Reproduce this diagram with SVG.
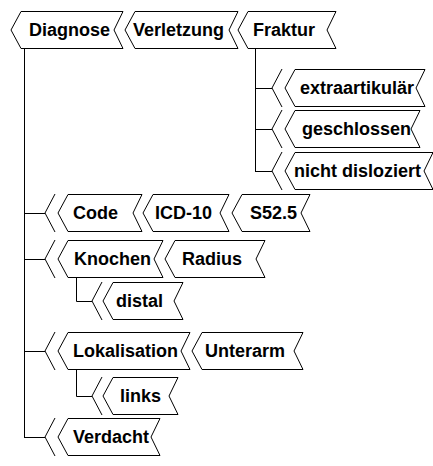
<svg xmlns="http://www.w3.org/2000/svg" width="433" height="466" viewBox="0 0 433 466">
  <style>
    .node path { fill: #fff; stroke: #000; stroke-width: 1; stroke-linejoin: miter; }
    .node text { font-family: "Liberation Sans", Arial, sans-serif; font-weight: bold; font-size: 18px; fill: #000; }
    .links path { fill: none; stroke: #000; stroke-width: 1; }
  </style>
  <rect width="433" height="466" fill="#fff"/>

  <!-- tree lines and entry chevrons -->
  <g id="connectors" class="links">
    <path d="M24.5,48 V437"/>
    <path d="M24,213.5 H45 M24,259.5 H45 M24,351.5 H45 M24,437.5 H45"/>
    <path d="M255.5,48 V171.5 M255,88.5 H272 M255,129.5 H272 M255,171.5 H272"/>
    <path d="M76.5,277 V301.5 H92 M76.5,369 V396.5 H92"/>
    <!-- chevrons in front of child nodes -->
    <path d="M282,69 L272,88 L282,107 M282,110 L272,129 L282,148 M282,152 L272,171 L282,190"/>
    <path d="M55,194 L45,213 L55,232 M55,240 L45,259 L55,278 M55,332 L45,351 L55,370 M55,418 L45,437 L55,456"/>
    <path d="M102,282 L92,301 L102,320 M102,377 L92,396 L102,415"/>
  </g>

  <g id="n-diagnose" class="node">
    <path d="M11,30 L21,11.5 H123 L114,30 L123,48.5 H21 Z"/>
    <text x="29" y="36">Diagnose</text>
  </g>
  <g id="n-verletzung" class="node">
    <path d="M125,30 L135,11.5 H238 L229,30 L238,48.5 H135 Z"/>
    <text x="133" y="36">Verletzung</text>
  </g>
  <g id="n-fraktur" class="node">
    <path d="M238,30 L248,11.5 H336 L327,30 L336,48.5 H248 Z"/>
    <text x="253" y="36">Fraktur</text>
  </g>

  <g id="n-extraartikulaer" class="node">
    <path d="M285,88 L295,69.5 H425 L416,88 L425,106.5 H295 Z"/>
    <text x="300" y="94">extraartikulär</text>
  </g>
  <g id="n-geschlossen" class="node">
    <path d="M285,129 L295,110.5 H420 L411,129 L420,147.5 H295 Z"/>
    <text x="302" y="135">geschlossen</text>
  </g>
  <g id="n-nicht-disloziert" class="node">
    <path d="M285,171 L295,152.5 H433 L424,171 L433,189.5 H295 Z"/>
    <text x="294" y="177">nicht disloziert</text>
  </g>

  <g id="n-code" class="node">
    <path d="M58,213 L68,194.5 H142 L133,213 L142,231.5 H68 Z"/>
    <text x="73" y="219">Code</text>
  </g>
  <g id="n-icd10" class="node">
    <path d="M143,213 L153,194.5 H229 L220,213 L229,231.5 H153 Z"/>
    <text x="155" y="219">ICD-10</text>
  </g>
  <g id="n-s525" class="node">
    <path d="M232,213 L242,194.5 H310 L301,213 L310,231.5 H242 Z"/>
    <text x="250" y="219">S52.5</text>
  </g>

  <g id="n-knochen" class="node">
    <path d="M58,259 L68,240.5 H163 L154,259 L163,277.5 H68 Z"/>
    <text x="74" y="265">Knochen</text>
  </g>
  <g id="n-radius" class="node">
    <path d="M165,259 L175,240.5 H265 L256,259 L265,277.5 H175 Z"/>
    <text x="182" y="265">Radius</text>
  </g>
  <g id="n-distal" class="node">
    <path d="M103,301 L113,282.5 H183 L174,301 L183,319.5 H113 Z"/>
    <text x="116" y="307">distal</text>
  </g>

  <g id="n-lokalisation" class="node">
    <path d="M58,351 L68,332.5 H190 L181,351 L190,369.5 H68 Z"/>
    <text x="73" y="357">Lokalisation</text>
  </g>
  <g id="n-unterarm" class="node">
    <path d="M192,351 L202,332.5 H303 L294,351 L303,369.5 H202 Z"/>
    <text x="205" y="357">Unterarm</text>
  </g>
  <g id="n-links" class="node">
    <path d="M103,396 L113,377.5 H178 L169,396 L178,414.5 H113 Z"/>
    <text x="120" y="402">links</text>
  </g>

  <g id="n-verdacht" class="node">
    <path d="M58,437 L68,418.5 H160 L151,437 L160,455.5 H68 Z"/>
    <text x="73" y="443">Verdacht</text>
  </g>
</svg>
